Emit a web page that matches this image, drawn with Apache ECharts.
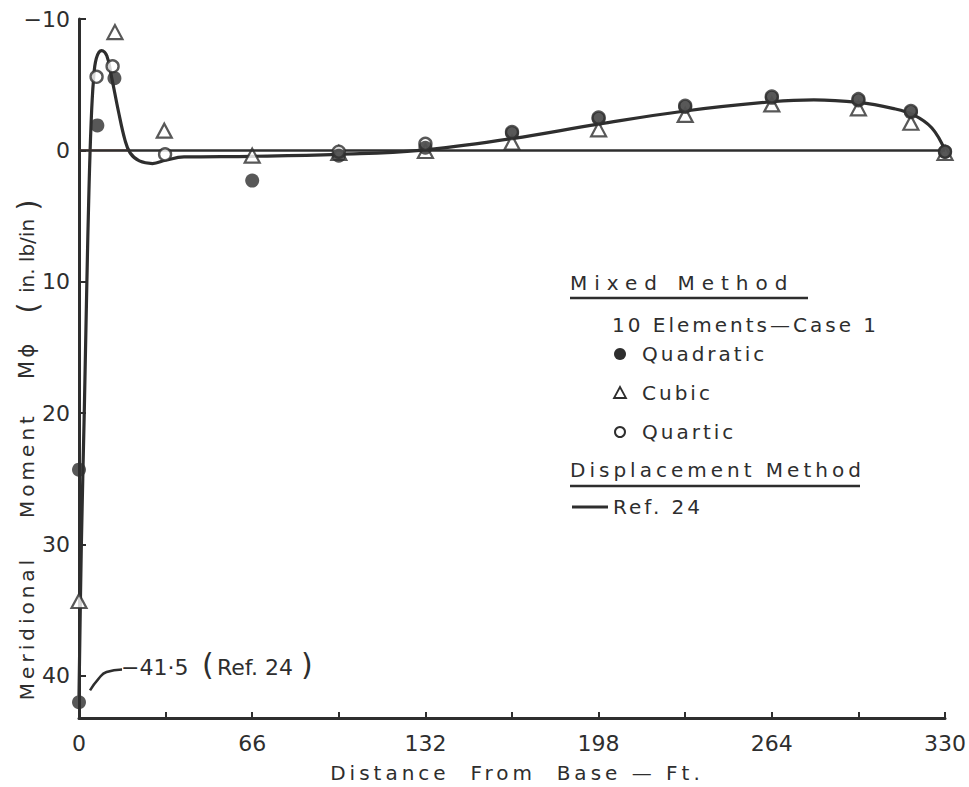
<!DOCTYPE html>
<html>
<head>
<meta charset="utf-8">
<script src="https://cdn.jsdelivr.net/npm/echarts@6/dist/echarts.min.js"></script>
<style>
html,body{margin:0;padding:0;background:#fff;}
#c{width:969px;height:787px;}
text[style*="lsA"]{letter-spacing:7px;}
text[style*="lsB"]{letter-spacing:3px;}
text[style*="lsC"]{letter-spacing:4px;}
</style>
</head>
<body>
<div id="c"></div>
<script>
// ---- data ----
const xTickValues = [0, 66, 132, 198, 264, 330];
const yTickValues = [-10, 0, 10, 20, 30, 40];
const refCurve = [[0,41.5],[0.9,30],[2.0,20],[3.0,10],[3.8,3],[4.6,-2],[5.5,-5.3],[6.6,-7.0],[8.6,-7.6],[10.6,-7.2],[12.4,-5.6],[15.0,-3.0],[17.5,-0.8],[19.5,0.2],[23,0.8],[28,1.0],[33,0.75],[40,0.5],[66,0.45],[99,0.3],[130,0],[165,-0.9],[198,-2.0],[231,-3.0],[264,-3.7],[280,-3.85],[297,-3.65],[310,-3.2],[318,-2.7],[325,-1.7],[330,0]];
const quadratic = [[0,42.0],[0,24.3],[7,-1.9],[13.5,-5.5],[66,2.3],[99,0.4],[132,-0.2],[165,-1.3],[198,-2.4],[231,-3.3],[264,-4.0],[297,-3.8],[317,-2.9],[330,0.1]];
const cubic = [[0,34.3],[13.7,-9.0],[32.5,-1.5],[66,0.4],[99,0.2],[132,0.05],[165,-0.6],[198,-1.6],[231,-2.7],[264,-3.5],[297,-3.2],[317,-2.1],[330,0.2]];
const quartic = [[6.7,-5.6],[12.8,-6.4],[32.8,0.3],[99,0.1],[132,-0.5],[165,-1.4],[198,-2.5],[231,-3.4],[264,-4.1],[297,-3.9],[317,-3.0],[330,0.1]];
const pencilZero = [[0,0],[19,0]];
const pencilRise = [[3.1,12],[3.7,3],[5.3,-5.5]];
const leader = [[4.2,41.1],[7.5,40.2],[10.5,39.7],[16.4,39.5]];

const INK = '#2e2e2e';
const FONT = 'DejaVu Sans';

const chart = echarts.init(document.getElementById('c'), null, {renderer:'svg'});

function fmtY(v){
  if (yTickValues.indexOf(v) < 0) return '';
  return v < 0 ? '\u2212' + (-v) : String(v);
}
function fmtX(v){
  return xTickValues.indexOf(v) >= 0 ? String(v) : '';
}
function t(x, y, text, size, ls, extra){
  const o = {type:'text', x:x, y:y, style:{text:text, font:size + 'px ' + FONT + (ls ? ', ' + ls : ''), fill:INK, textAlign:'left', textVerticalAlign:'middle'}};
  if (extra) Object.assign(o, extra.el || {}), Object.assign(o.style, extra.style || {});
  return o;
}
const ROT = {el:{rotation:Math.PI/2}, style:{textAlign:'center'}};

const option = {
  backgroundColor:'#fff',
  animation:false,
  textStyle:{fontFamily:FONT, color:INK},
  grid:{left:79, right:23, top:19, bottom:69, containLabel:false},
  xAxis:{
    type:'value', min:0, max:330, interval:33,
    axisLine:{onZero:false, lineStyle:{color:INK, width:3}},
    axisTick:{inside:true, length:6, lineStyle:{color:INK, width:2}},
    axisLabel:{formatter:fmtX, fontSize:22, color:INK, margin:14, fontFamily:FONT},
    splitLine:{show:false}
  },
  yAxis:{
    type:'value', min:-10, max:43.2, interval:10, inverse:true,
    axisLine:{onZero:false, lineStyle:{color:INK, width:3}},
    axisTick:{inside:true, length:7, lineStyle:{color:INK, width:2}},
    axisLabel:{formatter:fmtY, fontSize:22, color:INK, margin:9, fontFamily:FONT, showMaxLabel:false},
    splitLine:{show:false}
  },
  series:[
    {
      name:'Ref. 24', type:'line', data:refCurve, smooth:0.4,
      symbol:'none', lineStyle:{color:INK, width:3.2}, z:2,
      markLine:{silent:true, symbol:'none', label:{show:false},
        lineStyle:{color:INK, width:2.6, type:'solid'}, data:[{yAxis:0}]}
    },
    {name:'pencilZero', type:'line', data:pencilZero, symbol:'none', lineStyle:{color:'#9c4a3c', width:1.6}, z:3},
    {name:'pencilRise', type:'line', data:pencilRise, smooth:0.3, symbol:'none', lineStyle:{color:'#9c4a3c', width:1.3, opacity:0.8}, z:1},
    {name:'leader', type:'line', data:leader, smooth:0.5, symbol:'none', lineStyle:{color:INK, width:2.5}, z:3},
    {name:'Cubic', type:'scatter', data:cubic, symbol:'triangle', symbolSize:[15,14],
      itemStyle:{color:'#fff', borderColor:INK, borderWidth:2.2}, z:4},
    {name:'Quartic', type:'scatter', data:quartic, symbol:'circle', symbolSize:12,
      itemStyle:{color:'#fff', borderColor:INK, borderWidth:2.4}, z:5},
    {name:'Quadratic', type:'scatter', data:quadratic, symbol:'circle', symbolSize:14,
      itemStyle:{color:INK}, z:6}
  ],
  graphic:[
    // y axis title (reads bottom to top)
    t(27, 628, 'Meridional', 20, 'lsC', ROT),
    t(27, 465, 'Moment', 20, 'lsC', ROT),
    t(27, 360, 'M\u03d5', 21, 'lsB', ROT),
    t(28, 308, '(', 28, null, ROT),
    t(27, 256, 'in. lb/in', 20, null, ROT),
    t(28, 205, ')', 28, null, ROT),
    // x axis title
    {type:'text', x:517, y:773, style:{text:'Distance  From  Base \u2014 Ft.', font:'20px ' + FONT + ', lsC', fill:INK, textAlign:'center', textVerticalAlign:'middle'}},
    // annotation
    t(121, 667, '\u221241\u00b75', 22, null),
    t(202, 664, '(', 30, null),
    t(217, 667, 'Ref. 24', 22, null),
    t(301, 664, ')', 30, null),
    // legend block
    t(570, 283, 'Mixed Method', 20, 'lsA'),
    {type:'line', shape:{x1:570, y1:298, x2:808, y2:298}, style:{stroke:INK, lineWidth:2.5}},
    t(612, 325, '10 Elements\u2014Case 1', 20, 'lsB'),
    {type:'circle', shape:{cx:620, cy:354, r:6}, style:{fill:INK}},
    t(642, 354, 'Quadratic', 20, 'lsB'),
    {type:'polygon', shape:{points:[[620,387],[626,398],[614,398]]}, style:{fill:'#fff', stroke:INK, lineWidth:1.8}},
    t(642, 393, 'Cubic', 20, 'lsB'),
    {type:'circle', shape:{cx:620, cy:432, r:5}, style:{fill:'#fff', stroke:INK, lineWidth:2}},
    t(642, 432, 'Quartic', 20, 'lsB'),
    t(570, 470, 'Displacement Method', 20, 'lsC'),
    {type:'line', shape:{x1:570, y1:486, x2:860, y2:486}, style:{stroke:INK, lineWidth:2.5}},
    {type:'line', shape:{x1:572, y1:507, x2:608, y2:507}, style:{stroke:INK, lineWidth:3}},
    t(613, 507, 'Ref. 24', 20, 'lsB')
  ]
};
chart.setOption(option);
</script>
</body>
</html>
